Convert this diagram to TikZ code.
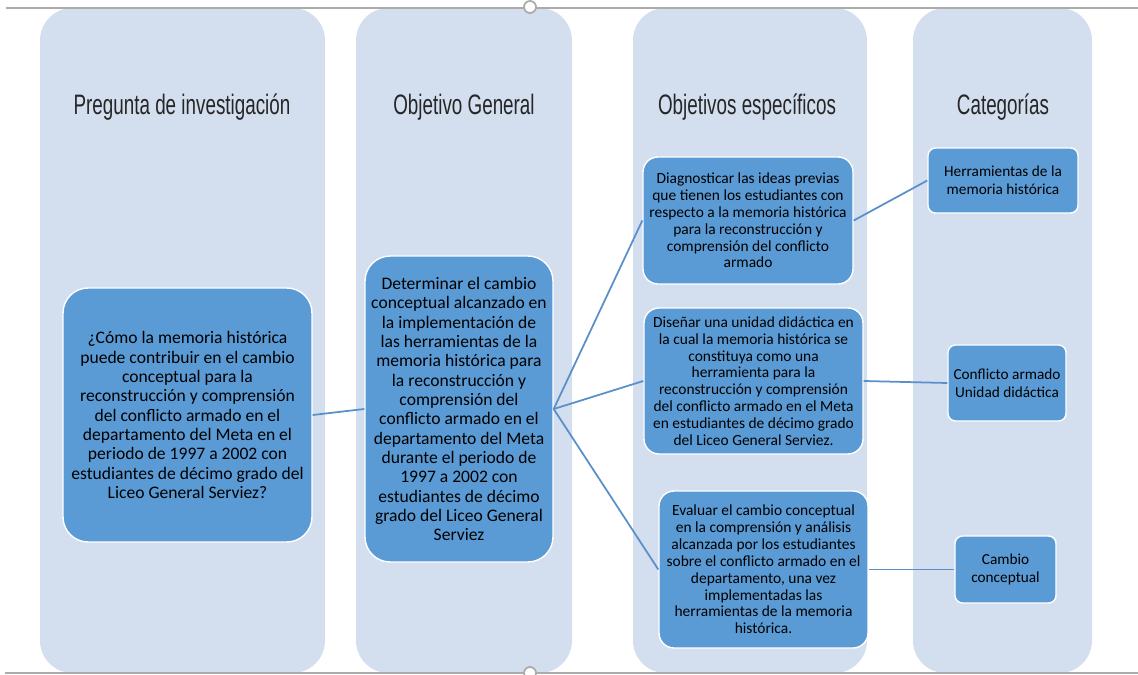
\documentclass[tikz,border=0pt]{standalone}
\usepackage{fontspec}
\setmainfont{Carlito}
\newfontfamily\headfont{Liberation Sans}
\definecolor{colfill}{HTML}{D3DEEF}
\definecolor{boxfill}{HTML}{5B9BD5}
\definecolor{linkcol}{HTML}{5A8FC9}
\definecolor{rulegray}{HTML}{ABABAB}
\begin{document}
\begin{tikzpicture}[x=0.02cm,y=-0.02cm,
  heading/.style={font=\headfont\fontsize{16}{18}\selectfont,text=black!85,anchor=base},
  bigbox/.style={fill=boxfill,draw=white,line width=0.8pt,rounded corners=0.5cm,
    align=center,inner sep=0pt,font=\fontsize{10}{11}\selectfont},
  objbox/.style={bigbox,rounded corners=0.3cm,font=\fontsize{8.8}{9.6}\selectfont},
  catbox/.style={bigbox,rounded corners=0.15cm,font=\fontsize{8.7}{10}\selectfont},
  link/.style={draw=linkcol,line width=1pt}]

  \useasboundingbox (0,0) rectangle (1138,675);

  % columns
  \foreach \xa/\xb in {40/325,356/572,633/867,913/1092}
    \fill[colfill,rounded corners=0.65cm] (\xa,8) rectangle (\xb,673);

  % headings
  \node[heading] (hpreg) at (182,115) {\scalebox{0.67}[1]{Pregunta de investigación}};
  \node[heading] (hgen) at (464,115) {\scalebox{0.67}[1]{Objetivo General}};
  \node[heading] (hesp) at (747,115) {\scalebox{0.67}[1]{Objetivos específicos}};
  \node[heading] (hcat) at (1003,115) {\scalebox{0.67}[1]{Categorías}};

  % question and general objective
  \node[bigbox,minimum width=4.98cm,minimum height=5.08cm] (preg) at (187.5,415)
    {¿Cómo la memoria histórica\\puede contribuir en el cambio\\conceptual para la\\
     reconstrucción y comprensión\\del conflicto armado en el\\departamento del Meta en el\\
     periodo de 1997 a 2002 con\\estudiantes de décimo grado del\\Liceo General Serviez?};
  \node[bigbox,minimum width=3.76cm,minimum height=6.12cm] (gen) at (459,409)
    {Determinar el cambio\\conceptual alcanzado en\\la implementación de\\
     las herramientas de la\\memoria histórica para\\la reconstrucción y\\
     comprensión del\\conflicto armado en el\\departamento del Meta\\
     durante el periodo de\\1997 a 2002 con\\estudiantes de décimo\\
     grado del Liceo General\\Serviez};

  % specific objectives
  \node[objbox,minimum width=4.2cm,minimum height=2.54cm] (diag) at (748,220.5)
    {Diagnosticar las ideas previas\\que tienen los estudiantes con\\
     respecto a la memoria histórica\\para la reconstrucción y\\
     comprensión del conflicto\\armado};
  \node[objbox,minimum width=4.38cm,minimum height=2.92cm] (dis) at (753.5,381)
    {Diseñar una unidad didáctica en\\la cual la memoria histórica se\\
     constituya como una\\herramienta para la\\reconstrucción y comprensión\\
     del conflicto armado en el Meta\\en estudiantes de décimo grado\\
     del Liceo General Serviez.};
  \node[objbox,minimum width=4.18cm,minimum height=3.14cm] (eval) at (763.5,569.5)
    {Evaluar el cambio conceptual\\en la comprensión y análisis\\
     alcanzada por los estudiantes\\sobre el conflicto armado en el\\
     departamento, una vez\\implementadas las\\
     herramientas de la memoria\\histórica.};

  % categories
  \node[catbox,minimum width=3.0cm,minimum height=1.3cm] (herr) at (1003,180.5)
    {Herramientas de la\\memoria histórica};
  \node[catbox,minimum width=2.36cm,minimum height=1.52cm] (conf) at (1007,383)
    {Conflicto armado\\Unidad didáctica};
  \node[catbox,minimum width=2.02cm,minimum height=1.34cm] (camb) at (1005.5,569.5)
    {Cambio\\conceptual};

  % links
  \draw[link] (preg.east) -- (gen.west);
  \foreach \n in {diag,dis,eval}
    \draw[link] (gen.east) -- (\n.west);
  \draw[link] (diag.east) -- (herr.west);
  \draw[link] (dis.east) -- (conf.west);
  \draw[link] (eval.east) -- (camb.west);

  % selection rules
  \draw[rulegray,line width=1.1pt] (6,8) -- (1138,8);
  \draw[rulegray,line width=1.1pt] (5,673) -- (1138,673);
  \draw[rulegray,fill=white,line width=1pt] (530,7) circle (0.12cm);
  \draw[rulegray,fill=white,line width=1pt] (530,673) circle (0.12cm);
\end{tikzpicture}
\end{document}
